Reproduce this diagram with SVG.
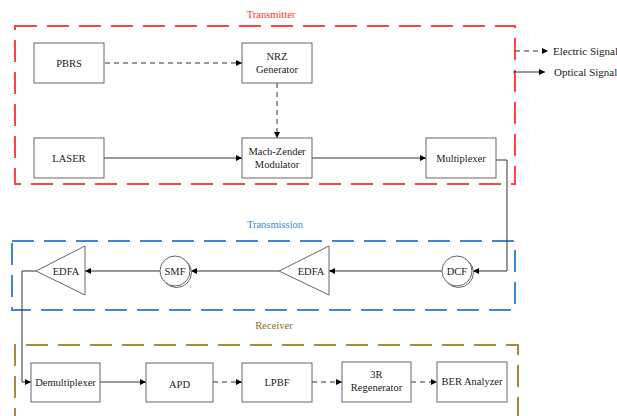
<svg xmlns="http://www.w3.org/2000/svg" width="617" height="416" viewBox="0 0 617 416" font-family="'Liberation Serif', 'DejaVu Serif', 'Times New Roman', serif">
<defs>
<marker id="ah" viewBox="0 0 10 10" refX="10" refY="5" markerWidth="6" markerHeight="6" markerUnits="userSpaceOnUse" orient="auto"><path d="M0,0 L10,5 L0,10 z" fill="#000"/></marker>
<style>
.box{fill:#fff;stroke:#666;stroke-width:1}
.t{font-family:'Liberation Serif','DejaVu Serif',serif;font-size:10.5px;fill:#222;text-anchor:middle}
.lg{font-family:'Liberation Serif','DejaVu Serif',serif;font-size:11px;fill:#222}
.e{stroke:#333;stroke-width:1;fill:none;stroke-dasharray:5 4;marker-end:url(#ah)}
.o{stroke:#333;stroke-width:1;fill:none;marker-end:url(#ah)}
.grp{fill:none;stroke-width:2;stroke-dasharray:22 10}
.gl{font-family:'Liberation Serif','DejaVu Serif',serif;font-size:10.5px;text-anchor:middle}
</style>
</defs>
<g id="groups">
<rect class="grp" x="15" y="26" width="500" height="158" stroke="#ff4444"/>
<text class="gl" x="271" y="18" fill="#ff3333">Transmitter</text>
<rect class="grp" x="12" y="241" width="503" height="69" stroke="#3d87d4"/>
<text class="gl" x="275" y="228" fill="#3d87d4">Transmission</text>
<path class="grp" d="M15,430 V345 H518 V430" stroke="#a98a3c"/>
<text class="gl" x="274" y="329" fill="#8a6d20">Receiver</text>
</g>
<g id="connectors">
<line class="e" x1="105" y1="63" x2="242" y2="63"/>
<line class="e" x1="277" y1="83" x2="277" y2="138"/>
<line class="o" x1="104" y1="158" x2="242" y2="158"/>
<line class="o" x1="312" y1="158" x2="426" y2="158"/>
<polyline class="o" points="496,160 507,160 507,271 473,271"/>
<line class="o" x1="442" y1="271" x2="329" y2="271"/>
<line class="o" x1="279" y1="271" x2="191" y2="271"/>
<line class="o" x1="160" y1="271" x2="85" y2="271"/>
<polyline class="o" points="36,271 22,271 22,382 31,382"/>
<line class="o" x1="100" y1="382" x2="146" y2="382"/>
<line class="e" x1="213" y1="382" x2="242" y2="382"/>
<line class="e" x1="312" y1="382" x2="342" y2="382"/>
<line class="e" x1="411" y1="382" x2="437" y2="382"/>
</g>
<g id="legend">
<line class="e" x1="515" y1="51" x2="548" y2="51"/>
<text class="lg" x="553" y="54.5">Electric Signal</text>
<line class="o" x1="513" y1="72" x2="545" y2="72"/>
<text class="lg" x="554" y="75.5">Optical Signal</text>
</g>
<g id="pbrs"><rect class="box" x="34" y="43" width="70" height="40"/><text class="t" x="69" y="66.5">PBRS</text></g>
<g id="nrz"><rect class="box" x="242" y="43" width="70" height="40"/><text class="t" x="277" y="60">NRZ</text><text class="t" x="277" y="73">Generator</text></g>
<g id="laser"><rect class="box" x="34" y="138" width="70" height="40"/><text class="t" x="69" y="161.5">LASER</text></g>
<g id="mzm"><rect class="box" x="242" y="138" width="70" height="40"/><text class="t" x="277" y="155">Mach-Zender</text><text class="t" x="277" y="168">Modulator</text></g>
<g id="mux"><rect class="box" x="426" y="138" width="70" height="40"/><text class="t" x="461" y="161.5">Multiplexer</text></g>
<g id="dcf"><circle cx="458.5" cy="272.5" r="15" fill="#fff" stroke="#666"/><circle cx="457" cy="271" r="15" class="box"/><text class="t" x="457" y="274.5">DCF</text></g>
<g id="edfa1"><polygon class="box" points="279,271 329,246 329,295"/><text class="t" x="311" y="274.5">EDFA</text></g>
<g id="smf"><circle cx="176.5" cy="272.5" r="15" fill="#fff" stroke="#666"/><circle cx="175" cy="271" r="15" class="box"/><text class="t" x="175" y="274.5">SMF</text></g>
<g id="edfa2"><polygon class="box" points="36,271 85,246 85,295"/><text class="t" x="66" y="274.5">EDFA</text></g>
<g id="demux"><rect class="box" x="31" y="363" width="69" height="39"/><text class="t" x="65.5" y="385.5">Demultiplexer</text></g>
<g id="apd"><rect class="box" x="146" y="363" width="67" height="39"/><text class="t" x="179.5" y="387.5">APD</text></g>
<g id="lpbf"><rect class="box" x="242" y="363" width="70" height="39"/><text class="t" x="277" y="385.5">LPBF</text></g>
<g id="regen"><rect class="box" x="342" y="362" width="69" height="40"/><text class="t" x="376.5" y="378">3R</text><text class="t" x="376.5" y="391">Regenerator</text></g>
<g id="ber"><rect class="box" x="437" y="362" width="70" height="40"/><text class="t" x="472" y="385">BER Analyzer</text></g>
</svg>
